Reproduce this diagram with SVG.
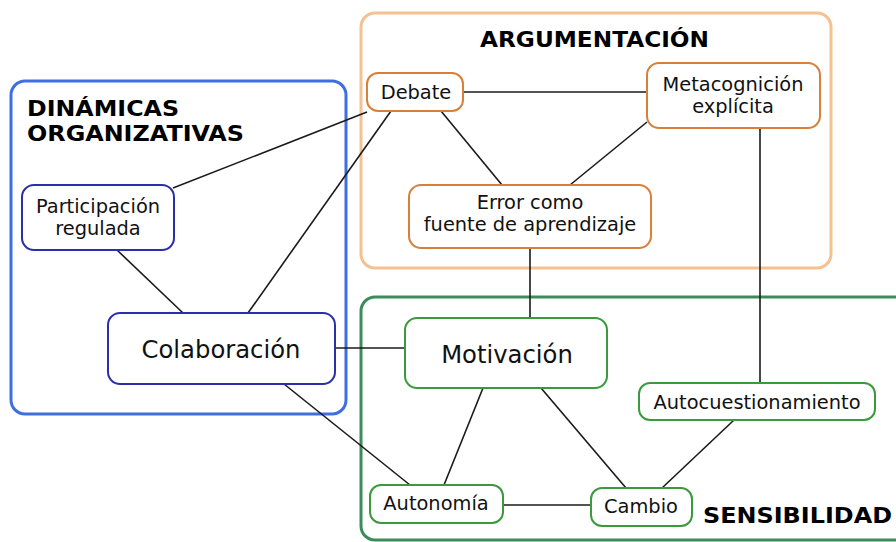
<svg xmlns="http://www.w3.org/2000/svg" width="896" height="542" viewBox="0 0 896 542">
<style>
.grp{fill:none;stroke-width:3}
.title{font-family:"DejaVu Sans",Verdana,sans-serif;font-weight:bold;font-size:21px;fill:#000}
.nb{fill:#fff;stroke:#2b30a8;stroke-width:2}
.no{fill:#fff;stroke:#d8803a;stroke-width:2}
.ng{fill:#fff;stroke:#3a9a3c;stroke-width:2}
.t{font-family:"DejaVu Sans",Verdana,sans-serif;font-size:19.4px;fill:#111;text-anchor:middle}
.tl{font-family:"DejaVu Sans",Verdana,sans-serif;font-size:24.3px;fill:#111;text-anchor:middle}
#connectors line{stroke:#1a1a1a;stroke-width:1.6}
</style>
<rect width="896" height="542" fill="#fff"/>
<g id="group-dinamicas">
<rect class="grp" x="11" y="81" width="335" height="333" rx="14" stroke="#3d6fe0"/>
<text class="title" x="27" y="116" textLength="152" lengthAdjust="spacingAndGlyphs">DINÁMICAS</text>
<text class="title" x="27" y="141" textLength="217" lengthAdjust="spacingAndGlyphs">ORGANIZATIVAS</text>
</g>
<g id="group-argumentacion">
<rect class="grp" x="361" y="13" width="470" height="255" rx="14" stroke="#f5c190"/>
<text class="title" x="480" y="47" textLength="229" lengthAdjust="spacingAndGlyphs">ARGUMENTACIÓN</text>
</g>
<g id="group-sensibilidad">
<rect class="grp" x="361" y="297" width="560" height="243" rx="14" stroke="#3b8c5a"/>
<text class="title" x="703" y="523" textLength="189" lengthAdjust="spacingAndGlyphs">SENSIBILIDAD</text>
</g>
<g id="connectors">
<line x1="173" y1="188" x2="367" y2="112"/>
<line x1="248" y1="313" x2="391" y2="111"/>
<line x1="117" y1="250" x2="183" y2="313"/>
<line x1="335" y1="348" x2="405" y2="348"/>
<line x1="284" y1="384" x2="410" y2="485"/>
<line x1="463" y1="92" x2="647" y2="92"/>
<line x1="441" y1="111" x2="502" y2="185"/>
<line x1="647" y1="122" x2="570" y2="185"/>
<line x1="530" y1="248" x2="530" y2="318"/>
<line x1="760" y1="128" x2="760" y2="383"/>
<line x1="483" y1="388" x2="444" y2="485"/>
<line x1="541" y1="388" x2="626" y2="488"/>
<line x1="734" y1="420" x2="662" y2="488"/>
<line x1="503" y1="505" x2="591" y2="505"/>
</g>
<g id="node-participacion">
<rect class="nb" x="22" y="185" width="152" height="65" rx="12"/>
<text class="t" x="98" y="213">Participación</text>
<text class="t" x="98" y="235">regulada</text>
</g>
<g id="node-colaboracion">
<rect class="nb" x="108" y="313" width="227" height="71" rx="12"/>
<text class="tl" x="221" y="358">Colaboración</text>
</g>
<g id="node-debate">
<rect class="no" x="367" y="73" width="96" height="38" rx="11"/>
<text class="t" x="416" y="99">Debate</text>
</g>
<g id="node-metacognicion">
<rect class="no" x="647" y="63" width="173" height="65" rx="12"/>
<text class="t" x="733" y="91">Metacognición</text>
<text class="t" x="733" y="113">explícita</text>
</g>
<g id="node-error">
<rect class="no" x="409" y="185" width="242" height="63" rx="12"/>
<text class="t" x="530" y="209">Error como</text>
<text class="t" x="530" y="231">fuente de aprendizaje</text>
</g>
<g id="node-motivacion">
<rect class="ng" x="405" y="318" width="202" height="70" rx="12"/>
<text class="tl" x="507" y="363">Motivación</text>
</g>
<g id="node-autocuestionamiento">
<rect class="ng" x="639" y="383" width="236" height="37" rx="11"/>
<text class="t" x="757" y="409">Autocuestionamiento</text>
</g>
<g id="node-autonomia">
<rect class="ng" x="370" y="485" width="133" height="38" rx="11"/>
<text class="t" x="436" y="510">Autonomía</text>
</g>
<g id="node-cambio">
<rect class="ng" x="591" y="488" width="101" height="38" rx="11"/>
<text class="t" x="641" y="513">Cambio</text>
</g>
</svg>
